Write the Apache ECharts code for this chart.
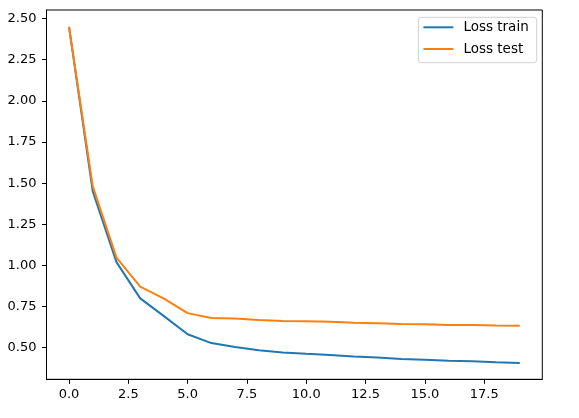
<!DOCTYPE html>
<html>
<head>
<meta charset="utf-8">
<script src="https://cdn.jsdelivr.net/npm/echarts@6/dist/echarts.min.js"></script>
<style>
html,body{margin:0;padding:0;background:#fff;}
#c{width:579px;height:418px;}
</style>
</head>
<body>
<div id="c"></div>
<script>
const epochs = [0,1,2,3,4,5,6,7,8,9,10,11,12,13,14,15,16,17,18,19];
const lossTrain = [2.45,1.45,1.02,0.80,0.692,0.582,0.528,0.504,0.484,0.471,0.463,0.456,0.447,0.44,0.432,0.427,0.421,0.418,0.412,0.407];
const lossTest = [2.45,1.48,1.047,0.871,0.798,0.71,0.68,0.678,0.668,0.662,0.66,0.657,0.651,0.648,0.644,0.642,0.638,0.638,0.635,0.633];
const xTicks = [0,2.5,5,7.5,10,12.5,15,17.5];
const yTicks = [0.5,0.75,1.0,1.25,1.5,1.75,2.0,2.25,2.5];
const seriesNames = ['Loss train','Loss test'];

const chart = echarts.init(document.getElementById('c'), null, {renderer:'canvas'});
const font = 'DejaVu Sans';
chart.setOption({
  animation:false,
  backgroundColor:'#fff',
  textStyle:{fontFamily:font},
  grid:{left:46.5,right:36.7,top:10,bottom:38.7,show:true,borderColor:'#000',borderWidth:1,backgroundColor:'transparent'},
  xAxis:{
    type:'value',min:-0.95,max:19.95,
    axisLine:{show:true,onZero:false,lineStyle:{color:'#000',width:1}},
    splitLine:{show:false},
    axisTick:{show:true,length:4.5,lineStyle:{color:'#000',width:1},customValues:xTicks},
    axisLabel:{color:'#000',fontSize:13,fontFamily:font,margin:9,customValues:xTicks,formatter:v=>v.toFixed(1)}
  },
  yAxis:{
    type:'value',min:0.308,max:2.552,
    axisLine:{show:true,onZero:false,lineStyle:{color:'#000',width:1}},
    splitLine:{show:false},
    axisTick:{show:true,length:4.5,lineStyle:{color:'#000',width:1},customValues:yTicks},
    axisLabel:{color:'#000',fontSize:13,fontFamily:font,margin:10,customValues:yTicks,formatter:v=>v.toFixed(2)}
  },
  legend:{
    orient:'vertical',right:42.3,top:17.3,
    padding:[3,8,6.7,5],
    icon:'rect',
    itemWidth:30,itemHeight:2,itemGap:7.7,
    backgroundColor:'#fff',borderColor:'#d0d0d0',borderWidth:1,borderRadius:3,
    textStyle:{fontSize:13.5,lineHeight:14,color:'#000',fontFamily:font,padding:[0,0,0,5]},
    data:seriesNames
  },
  series:[
    {name:seriesNames[0],type:'line',symbol:'none',showSymbol:false,color:'#1f77b4',lineStyle:{width:2,color:'#1f77b4'},
     data:epochs.map((e,i)=>[e,lossTrain[i]])},
    {name:seriesNames[1],type:'line',symbol:'none',showSymbol:false,color:'#ff7f0e',lineStyle:{width:2,color:'#ff7f0e'},
     data:epochs.map((e,i)=>[e,lossTest[i]])}
  ]
});
</script>
</body>
</html>
